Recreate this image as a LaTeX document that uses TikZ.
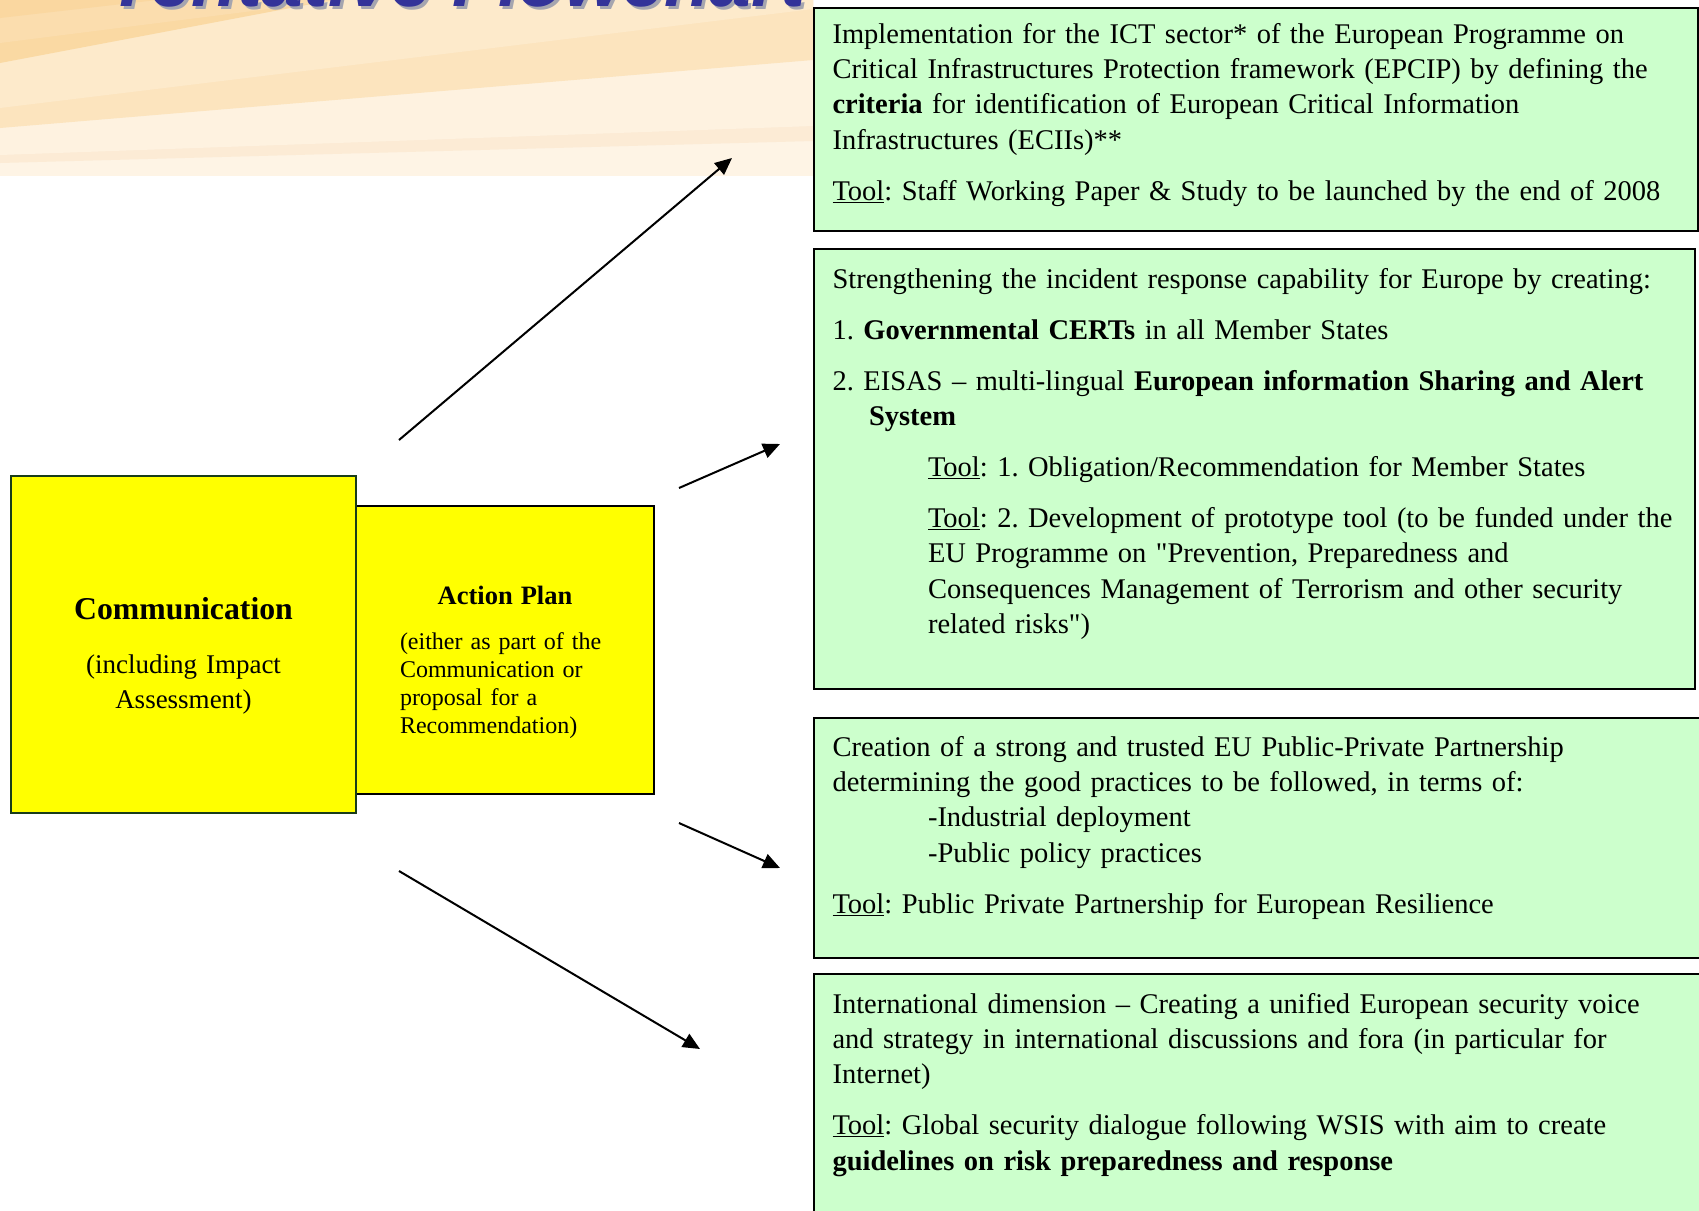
\documentclass[tikz,border=0pt]{standalone}
\usepackage{fontspec}
\setmainfont{Liberation Serif}
\newfontfamily\titlefont{Liberation Sans}
\usetikzlibrary{arrows.meta}

\definecolor{boxgreen}{HTML}{CCFFCC}
\definecolor{boxyellow}{HTML}{FFFF00}
\definecolor{yellowedge}{RGB}{25,60,25}
\definecolor{titleblue}{RGB}{51,51,153}
\definecolor{titleshadow}{RGB}{165,165,175}
\definecolor{bandA}{HTML}{FAD7A0}
\definecolor{bandB}{HTML}{FBDDAE}
\definecolor{bandC}{HTML}{FAD9A3}
\definecolor{bandD}{HTML}{FDEACB}
\definecolor{bandE}{HTML}{FCE4BE}
\definecolor{bandF}{HTML}{FEF2E0}
\definecolor{bandG}{HTML}{FCEBD5}
\definecolor{bandH}{HTML}{FEF4E5}

\tikzset{
  greenbox/.style={draw=black, line width=2pt, fill=boxgreen, anchor=north west,
    align=left, inner xsep=18.5pt, inner ysep=0pt,
    font=\fontsize{28.5}{35.4}\selectfont},
  yellowbox/.style={draw=yellowedge, line width=2pt, fill=boxyellow,
    anchor=north west, inner ysep=0pt},
  titletext/.style={anchor=base west, inner sep=0pt, text=titleblue,
    font=\titlefont\bfseries\itshape\fontsize{74.6}{80}\selectfont},
  flow/.style={-{Triangle[length=17pt,width=15pt]}, line width=2pt}
}

\begin{document}
\frenchspacing
\begin{tikzpicture}[x=1pt,y=-1pt]
\useasboundingbox (0,0) rectangle (1699,1210);

% sun rays behind the title
\begin{scope}
\clip (0,0) rectangle (813,176);
\fill[bandH] (0,0) rectangle (813,176);
\fill[bandG] (0,-200) -- (0,163) -- (813,141) -- (813,-200) -- cycle;
\fill[bandF] (0,-200) -- (0,155) -- (813,126) -- (813,-200) -- cycle;
\fill[bandE] (0,-200) -- (0,128) -- (813,60) -- (813,-200) -- cycle;
\fill[bandD] (0,-200) -- (0,108) -- (813,9) -- (813,-200) -- cycle;
\fill[bandC] (0,-200) -- (0,63) -- (813,-91) -- (813,-200) -- cycle;
\fill[bandB] (0,-200) -- (0,43) -- (813,-60) -- (813,-200) -- cycle;
\fill[bandA] (0,-200) -- (0,18) -- (813,-75) -- (813,-200) -- cycle;
\end{scope}

\node[titletext, text=titleshadow] (title-shadow) at (110,9) {Tentative Flowchart};
\node[titletext] (title) at (107,6) {Tentative Flowchart};

% left side
\node[yellowbox, draw=black, inner xsep=44pt, text width=210pt, text height=98pt,
  text depth=190pt, align=left, font=\fontsize{24}{28.3}\selectfont] (plan) at (355,505)
  {\makebox[\linewidth]{\fontsize{26.5}{28.3}\selectfont\bfseries Action Plan}\\[16.7pt]
   (either as part of the\\ Communication or\\ proposal for a\\ Recommendation)};
\node[yellowbox, inner xsep=0pt, text width=345pt, text height=143pt,
  text depth=194pt, align=center, font=\fontsize{27}{35}\selectfont] (comm) at (10,475)
  {{\fontsize{31.75}{35}\selectfont\bfseries Communication}\\[19pt]
   (including Impact\\ Assessment)};

% right side
\node[greenbox, text width=847pt, text height=35pt, text depth=188pt] (ict) at (813,7)
  {Implementation for the ICT sector* of the European Programme on\\
   Critical Infrastructures Protection framework (EPCIP) by defining the\\
   \textbf{criteria} for identification of European Critical Information\\
   Infrastructures (ECIIs)**\\[15.6pt]
   \mbox{\underline{Tool}: Staff Working Paper \& Study to be launched by the end of 2008}};
\node[greenbox, text width=844pt, text height=39pt, text depth=401pt] (cert) at (813,248)
  {Strengthening the incident response capability for Europe by creating:\\[15.6pt]
   1. \textbf{Governmental CERTs} in all Member States\\[15.6pt]
   2. EISAS -- multi-lingual \textbf{European information Sharing and Alert}\\
   \hspace*{36.5pt}\textbf{System}\\[15.6pt]
   \hspace*{95.5pt}\underline{Tool}: 1. Obligation/Recommendation for Member States\\[15.6pt]
   \hspace*{95.5pt}\mbox{\underline{Tool}: 2. Development of prototype tool (to be funded under the}\\
   \hspace*{95.5pt}EU Programme on \textquotedbl Prevention, Preparedness and\\
   \hspace*{95.5pt}Consequences Management of Terrorism and other security\\
   \hspace*{95.5pt}related risks\textquotedbl)};
\node[greenbox, text width=870pt, text height=38pt, text depth=202pt] (ppp) at (813,717)
  {Creation of a strong and trusted EU Public-Private Partnership\\
   determining the good practices to be followed, in terms of:\\
   \hspace*{95.5pt}-Industrial deployment\\
   \hspace*{95.5pt}-Public policy practices\\[15.6pt]
   \underline{Tool}: Public Private Partnership for European Resilience};
\node[greenbox, text width=870pt, text height=39pt, text depth=240pt] (intl) at (813,973)
  {International dimension -- Creating a unified European security voice\\
   and strategy in international discussions and fora (in particular for\\
   Internet)\\[15.6pt]
   \underline{Tool}: Global security dialogue following WSIS with aim to create\\
   \textbf{guidelines on risk preparedness and response}};

% arrows
\coordinate (from-ict) at (399,440);
\coordinate (to-ict) at (732,158);
\coordinate (from-cert) at (679,488);
\coordinate (to-cert) at (780,444);
\coordinate (from-ppp) at (679,823);
\coordinate (to-ppp) at (780,868);
\coordinate (from-intl) at (399,871);
\coordinate (to-intl) at (700,1049);

\draw[flow] (from-ict) -- (to-ict);
\draw[flow] (from-cert) -- (to-cert);
\draw[flow] (from-ppp) -- (to-ppp);
\draw[flow] (from-intl) -- (to-intl);

\end{tikzpicture}
\end{document}
